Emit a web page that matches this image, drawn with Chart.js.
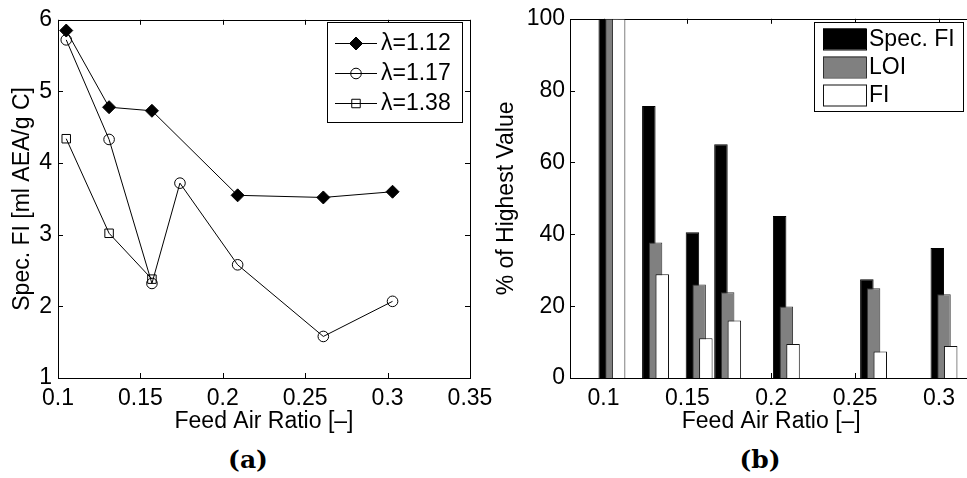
<!DOCTYPE html>
<html>
<head>
<meta charset="utf-8">
<script src="https://cdn.jsdelivr.net/npm/chart.js@4.4.0/dist/chart.umd.min.js"></script>
<style>
  html, body { margin: 0; padding: 0; background: #fff; width: 967px; height: 478px; overflow: hidden; }
  canvas { position: absolute; top: 0; }
  #left { left: 0; }
  #right { left: 480px; }
  .cap { position: absolute; top: 445px; width: 100px; text-align: center;
         font: bold 25px "DejaVu Serif", serif; line-height: 30px; color: #000; }
</style>
</head>
<body>
<canvas id="left" width="520" height="440" style="width:520px;height:440px"></canvas>
<canvas id="right" width="500" height="440" style="width:500px;height:440px"></canvas>
<div class="cap" style="left:198px">(a)</div>
<div class="cap" style="left:710px">(b)</div>
<script>
// ---- data ----
const feedAir = [0.105, 0.131, 0.157, 0.174, 0.209, 0.261, 0.303];

// (a) specific foam index per lambda
const lambdaLabels = ['λ=1.12', 'λ=1.17', 'λ=1.38'];
const fi112 = [5.85, 4.78, 4.73, null, 3.55, 3.52, 3.60];
const fi117 = [5.72, 4.33, 2.32, 3.72, 2.58, 1.58, 2.07];
const fi138 = [4.34, 3.02, 2.38, null, null, null, null];

// (b) percent of highest value
const barLabels = ['Spec. FI', 'LOI', 'FI'];
const pctSpecFI = [100, 75.7, 40.6, 65.1, 45.1, 27.5, 36.2];
const pctLOI    = [100, 37.7, 26.0, 23.9, 19.9, 25.0, 23.3];
const pctFI     = [100, 28.9, 11.1, 16.0, 9.5, 7.4, 8.9];

// tick labels
const xTicksA = [0.1, 0.15, 0.2, 0.25, 0.3, 0.35];
const yTicksA = [1, 2, 3, 4, 5, 6];
const xTicksB = [0.1, 0.15, 0.2, 0.25, 0.3];
const yTicksB = [0, 20, 40, 60, 80, 100];

// ---- shared style ----
const FAMILY = '"Liberation Sans", Arial, Helvetica, sans-serif';
const FSIZE = 23;
Chart.defaults.color = '#000';
Chart.defaults.font.family = FAMILY;
Chart.defaults.font.size = FSIZE;

const pts = arr => feedAir.map((x, i) => ({ x, y: arr[i] }));
const fmt = v => String(+(+v).toFixed(2));

// matlab-like box with inward ticks
const frame = {
  id: 'frame',
  beforeDatasetsDraw(chart) {
    const { ctx, chartArea: a, scales: { x, y } } = chart;
    const tl = 5;
    ctx.save();
    ctx.strokeStyle = '#000';
    ctx.lineWidth = 1;
    ctx.beginPath();
    x.ticks.forEach(t => {
      const px = Math.round(x.getPixelForValue(t.value)) + 0.5;
      ctx.moveTo(px, a.bottom); ctx.lineTo(px, a.bottom - tl);
      ctx.moveTo(px, a.top); ctx.lineTo(px, a.top + tl);
    });
    y.ticks.forEach(t => {
      const py = Math.round(y.getPixelForValue(t.value)) + 0.5;
      ctx.moveTo(a.left, py); ctx.lineTo(a.left + tl, py);
      ctx.moveTo(a.right, py); ctx.lineTo(a.right - tl, py);
    });
    ctx.stroke();
    ctx.strokeRect(Math.round(a.left) + 0.5, Math.round(a.top) + 0.5,
                   Math.round(a.right - a.left), Math.round(a.bottom - a.top));
    ctx.restore();
  }
};

// legend drawn inside the axes
const boxLegend = {
  id: 'boxLegend',
  afterDraw(chart, args, o) {
    const ctx = chart.ctx;
    ctx.save();
    ctx.fillStyle = '#fff';
    ctx.fillRect(o.x, o.y, o.w, o.h);
    ctx.strokeStyle = '#000';
    ctx.lineWidth = 1;
    ctx.strokeRect(o.x + 0.5, o.y + 0.5, o.w, o.h);
    ctx.font = FSIZE + 'px ' + FAMILY;
    ctx.textBaseline = 'middle';
    chart.data.datasets.forEach((ds, i) => {
      const cy = o.y + o.first + i * o.step;
      if (o.kind === 'line') {
        ctx.strokeStyle = '#000';
        ctx.beginPath();
        ctx.moveTo(o.x + o.sx0, cy + 0.5); ctx.lineTo(o.x + o.sx1, cy + 0.5);
        ctx.stroke();
        ctx.fillStyle = ds.pointBackgroundColor;
        ctx.strokeStyle = '#000';
        Chart.helpers.drawPoint(ctx, { pointStyle: ds.pointStyle, radius: ds.pointRadius, rotation: 0, borderWidth: 1 },
          o.x + (o.sx0 + o.sx1) / 2, cy + 0.5);
      } else {
        ctx.fillStyle = ds.backgroundColor;
        ctx.strokeStyle = ds.borderColor;
        ctx.fillRect(o.x + o.sx0, cy - o.sh / 2, o.sx1 - o.sx0, o.sh);
        ctx.strokeRect(o.x + o.sx0 + 0.5, cy - o.sh / 2 + 0.5, o.sx1 - o.sx0, o.sh);
      }
      ctx.fillStyle = '#000';
      ctx.fillText(ds.label, o.x + o.tx, cy + 1);
    });
    ctx.restore();
  }
};

// overlapping grouped bars, as in the original figure
const barShift = {
  id: 'barShift',
  beforeDatasetDraw(chart, args, o) {
    chart.ctx.save();
    chart.ctx.translate(o.shift[args.index], 0);
  },
  afterDatasetDraw(chart) { chart.ctx.restore(); }
};

// ---- (a) ----
new Chart(document.getElementById('left'), {
  type: 'line',
  data: {
    datasets: [
      { label: lambdaLabels[0], data: pts(fi112), pointStyle: 'rectRot', pointRadius: 6.5,
        pointBackgroundColor: '#000' },
      { label: lambdaLabels[1], data: pts(fi117), pointStyle: 'circle', pointRadius: 5.3,
        pointBackgroundColor: 'rgba(0,0,0,0)' },
      { label: lambdaLabels[2], data: pts(fi138), pointStyle: 'rect', pointRadius: 6,
        pointBackgroundColor: 'rgba(0,0,0,0)' }
    ].map(d => Object.assign({ borderColor: '#000', borderWidth: 1, pointBorderColor: '#000',
                               pointBorderWidth: 1, tension: 0, spanGaps: true, fill: false }, d))
  },
  options: {
    responsive: false, animation: false, events: [],
    layout: { padding: { top: 14, right: 50, left: 0, bottom: 0 } },
    plugins: {
      legend: { display: false }, tooltip: { enabled: false },
      boxLegend: { kind: 'line', x: 327, y: 22, w: 135, h: 100, first: 21, step: 30,
                   sx0: 8, sx1: 50, tx: 54 }
    },
    scales: {
      x: {
        type: 'linear', min: 0.1, max: 0.35,
        grid: { display: false, drawTicks: false }, border: { display: false },
        afterBuildTicks: s => { s.ticks = xTicksA.map(v => ({ value: v })); },
        afterFit: s => { s.height = 62; },
        ticks: { padding: 7, maxRotation: 0, callback: fmt },
        title: { display: true, text: 'Feed Air Ratio [–]', padding: { top: 0, bottom: 5 } }
      },
      y: {
        min: 1, max: 6,
        grid: { display: false, drawTicks: false }, border: { display: false },
        afterBuildTicks: s => { s.ticks = yTicksA.map(v => ({ value: v })); },
        afterFit: s => { s.width = 58; },
        ticks: { padding: 6, callback: fmt },
        title: { display: true, text: 'Spec. FI [ml AEA/g C]', padding: { top: 9, bottom: 0 } }
      }
    }
  },
  plugins: [frame, boxLegend]
});

// ---- (b) ----
new Chart(document.getElementById('right'), {
  type: 'bar',
  data: {
    datasets: [
      { label: barLabels[0], data: pts(pctSpecFI), backgroundColor: '#000', borderColor: '#000', order: 3 },
      { label: barLabels[1], data: pts(pctLOI), backgroundColor: '#808080', borderColor: '#303030', order: 2 },
      { label: barLabels[2], data: pts(pctFI), backgroundColor: '#fff', borderColor: '#111', order: 1 }
    ].map(d => Object.assign({ borderWidth: 1, grouped: false, maxBarThickness: 13.5 }, d))
  },
  options: {
    responsive: false, animation: false, events: [],
    layout: { padding: { top: 14, right: 7.5, left: 0, bottom: 0 } },
    plugins: {
      legend: { display: false }, tooltip: { enabled: false },
      barShift: { shift: [-6.7, 0, 6.7] },
      boxLegend: { kind: 'bar', x: 334, y: 22, w: 149, h: 89, first: 17, step: 28, sh: 21,
                   sx0: 9, sx1: 52, tx: 55 }
    },
    scales: {
      x: {
        type: 'linear', min: 0.08, max: 0.32, offset: false,
        grid: { display: false, drawTicks: false }, border: { display: false },
        afterBuildTicks: s => { s.ticks = xTicksB.map(v => ({ value: v })); },
        afterFit: s => { s.height = 62; },
        ticks: { padding: 7, maxRotation: 0, callback: fmt },
        title: { display: true, text: 'Feed Air Ratio [–]', padding: { top: 0, bottom: 5 } }
      },
      y: {
        min: 0, max: 100,
        grid: { display: false, drawTicks: false }, border: { display: false },
        afterBuildTicks: s => { s.ticks = yTicksB.map(v => ({ value: v })); },
        afterFit: s => { s.width = 90; },
        ticks: { padding: 5, callback: fmt },
        title: { display: true, text: '% of Highest Value', padding: { top: 13, bottom: 0 } }
      }
    }
  },
  plugins: [frame, barShift, boxLegend]
});
</script>
</body>
</html>
